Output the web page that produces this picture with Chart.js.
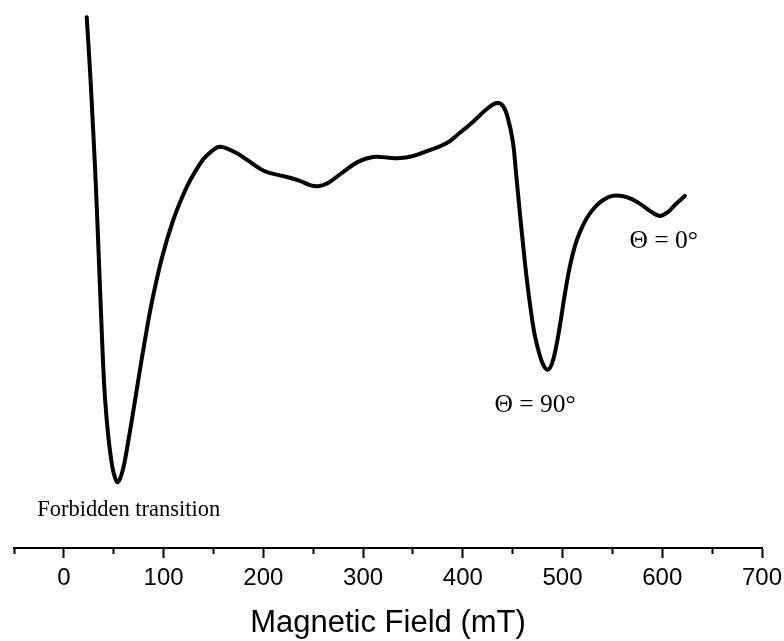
<!DOCTYPE html>
<html>
<head>
<meta charset="utf-8">
<title>EPR spectrum</title>
<script src="https://cdn.jsdelivr.net/npm/chart.js@4.4.1/dist/chart.umd.min.js"></script>
<style>
    html, body { margin: 0; padding: 0; background: #fff; }
    #chart-container { width: 784px; height: 641px; }
</style>
</head>
<body>
<div id="chart-container"><canvas id="eprChart" width="784" height="641"></canvas></div>
<script>
// spectrum (field in mT, signal in arbitrary units)
const fieldMT = [22.9, 26.0, 28.7, 31.2, 33.4, 35.4, 37.4, 39.5, 41.4, 44.2, 47.2, 50.2, 54.2,
    59.3, 64.3, 69.3, 76.3, 81.3, 88.3, 98.4, 109.4, 119.4, 126.4, 139.4, 148.4, 156.5,
    171.6, 183.6, 193.6, 203.7, 223.7, 236.7, 246.8, 254.8, 264.8, 279.9, 294.9, 309.9, 323.9,
    337.0, 350.0, 364.0, 384.1, 397.1, 410.1, 424.1, 434.1,
    440.1, 445.2, 450.2, 453.3, 457.3, 461.3, 464.3, 468.3, 472.3, 477.3, 481.3, 485.3, 489.3,
    493.3, 497.3, 502.3, 507.4, 512.4, 517.4, 524.4, 532.4, 540.4, 549.5, 559.5, 569.5, 579.5,
    589.5, 597.5, 605.5, 613.6, 622.6];
const signal = [98.3, 89.1, 79.8, 70.6, 61.3, 52.0, 42.8, 33.5, 27.4, 21.3, 16.7, 13.7, 12.2,
    14.6, 19.5, 25.0, 33.0, 38.5, 45.6, 53.8, 60.6, 65.3, 68.0, 71.9, 73.5, 74.3,
    73.3, 71.9, 70.6, 69.6, 68.7, 68.0, 67.2, 67.0, 67.6, 69.6, 71.5, 72.4, 72.3,
    72.2, 72.6, 73.5, 75.0, 76.9, 78.9, 81.3, 82.4,
    81.9, 79.6, 75.2, 69.6, 61.9, 54.6, 49.6, 43.9, 39.3, 35.6, 33.7, 33.0, 34.1,
    37.0, 41.1, 47.0, 52.2, 55.9, 58.5, 61.1, 63.1, 64.4, 65.2, 65.2, 64.6, 63.5,
    62.2, 61.5, 62.2, 63.7, 65.2];

// labels written inside the plot
const noteText = ["Forbidden transition", "Θ = 90°", "Θ = 0°"];
const noteField = [65, 472.5, 601.5];
const noteLevel = [5.9, 25.2, 55.6];

// draws the peak labels through the chart scales
const peakNotes = {
    id: "peakNotes",
    afterDatasetsDraw(chart) {
        const { ctx, scales: { x, y } } = chart;
        ctx.save();
        ctx.fillStyle = "#000";
        ctx.textAlign = "center";
        ctx.textBaseline = "alphabetic";
        noteText.forEach((text, i) => {
            ctx.font = (i === 0 ? "22.5px" : "25.5px") + ' "Liberation Serif", "Times New Roman", serif';
            ctx.fillText(text, x.getPixelForValue(noteField[i]), y.getPixelForValue(noteLevel[i]));
        });
        ctx.restore();
    }
};

document.addEventListener("DOMContentLoaded", () => {
    const canvas = document.getElementById("eprChart");
    const ctx = canvas.getContext("2d");

    const chartData = {
        datasets: [
            {
                label: "EPR",
                data: fieldMT.map((f, i) => ({ x: f, y: signal[i] })),
                borderColor: "#000",
                borderWidth: 4,
                borderCapStyle: "round",
                borderJoinStyle: "round",
                pointRadius: 0,
                fill: false,
                tension: 0.4,
            },
        ],
    };

    const sansFont = '"Liberation Sans", Arial, Helvetica, sans-serif';

    const chartOptions = {
        responsive: false,
        animation: false,
        layout: { padding: { top: 8, left: 14, right: 22, bottom: 0 } },
        plugins: {
            legend: { display: false },
            tooltip: { enabled: false },
        },
        scales: {
            x: {
                type: "linear",
                min: -50,
                max: 700,
                afterFit: (scale) => {
                    scale.height = 93;
                    scale.paddingLeft = 0;
                    scale.paddingRight = 0;
                },
                border: { display: true, color: "#000", width: 2 },
                grid: {
                    display: true,
                    drawOnChartArea: false,
                    drawTicks: true,
                    tickLength: 10,
                    tickWidth: 2,
                    tickColor: "#000",
                    // minor ticks: only the first 5px of the mark
                    tickBorderDash: (c) => (c.tick && c.tick.value % 100 !== 0 ? [5, 20] : []),
                },
                ticks: {
                    stepSize: 50,
                    autoSkip: false,
                    maxRotation: 0,
                    padding: 6,
                    color: "#000",
                    font: { family: sansFont, size: 24 },
                    callback: (v) => (v % 100 === 0 ? String(v) : ""),
                },
                title: {
                    display: true,
                    text: "Magnetic Field (mT)",
                    color: "#000",
                    font: { family: sansFont, size: 31, lineHeight: 1.1 },
                    padding: { top: 0, bottom: 0 },
                },
            },
            y: {
                display: false,
                min: 0,
                max: 100,
            },
        },
    };

    new Chart(ctx, {
        type: "line",
        data: chartData,
        options: chartOptions,
        plugins: [peakNotes],
    });
});
</script>
</body>
</html>
